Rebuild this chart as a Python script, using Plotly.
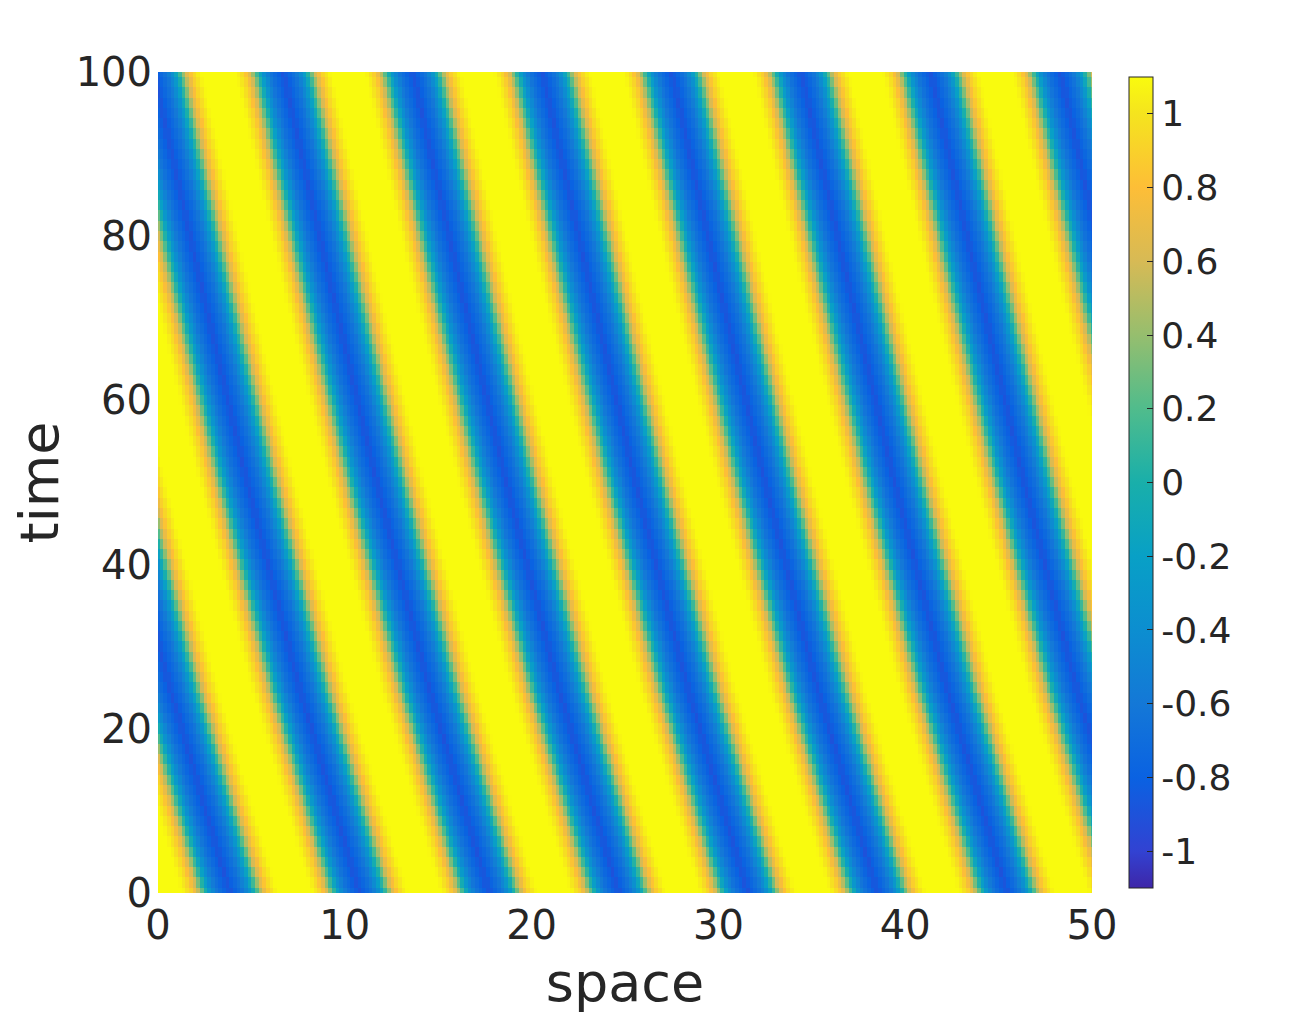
import numpy as np
import plotly.graph_objects as go

# =============================
# DATA
# =============================

# yellow ridge (crest) positions along five rows of the space-time map
row_t = [3.4, 25.3, 50.3, 75.3, 99.5]
row_first = [1, 1, 1, 2, 2]   # number of the first crest seen in each row
row_crests = [
    [6.75, 13.7, 20.66, 27.7, 34.5, 41.5, 48.8],
    [4.38, 11.17, 17.96, 24.75, 31.7, 38.5, 45.45],
    [1.23, 8.03, 15.15, 22.1, 29.07, 36.0, 43.0, 49.6],
    [5.67, 12.63, 19.4, 26.4, 33.3, 40.3, 47.3],
    [3.37, 10.2, 17.0, 24.0, 31.0, 37.95, 44.97],
]

# value across one wavelength, crest at phase 0
profile_phase = [0.0, 0.05, 0.1, 0.15, 0.2, 0.25, 0.3, 0.35, 0.4, 0.45, 0.5,
                 0.55, 0.6, 0.65, 0.7, 0.75, 0.8, 0.85, 0.9, 0.95, 1.0]
profile_value = [1.2, 1.18, 1.14, 1.06, 0.9, 0.6, 0.1, -0.36, -0.62, -0.76, -0.9,
                 -0.76, -0.62, -0.36, 0.1, 0.6, 0.9, 1.06, 1.14, 1.18, 1.2]

x_ticks = [0, 10, 20, 30, 40, 50]
t_ticks = [0, 20, 40, 60, 80, 100]
cb_ticks = [-1, -0.8, -0.6, -0.4, -0.2, 0, 0.2, 0.4, 0.6, 0.8, 1]
cb_text = ["-1", "-0.8", "-0.6", "-0.4", "-0.2", "0", "0.2", "0.4", "0.6", "0.8", "1"]

# parula, as seen on the colour bar
parula = [
    [0.000, "rgb(62,38,168)"],
    [0.045, "rgb(50,66,210)"],
    [0.136, "rgb(10,98,226)"],
    [0.227, "rgb(20,120,215)"],
    [0.318, "rgb(12,142,208)"],
    [0.409, "rgb(8,160,198)"],
    [0.500, "rgb(25,175,170)"],
    [0.591, "rgb(80,188,140)"],
    [0.682, "rgb(150,190,110)"],
    [0.773, "rgb(215,186,85)"],
    [0.864, "rgb(253,190,55)"],
    [0.955, "rgb(245,228,30)"],
    [1.000, "rgb(249,251,14)"],
]

# =============================
# FIELD
# =============================

# one common wavelength, one offset per row
slopes = []
for first, cr in zip(row_first, row_crests):
    n = np.arange(first, first + len(cr))
    slopes.append(np.polyfit(n, cr, 1)[0])
lam = float(np.mean(slopes))

offsets = []
for first, cr in zip(row_first, row_crests):
    n = np.arange(first, first + len(cr))
    offsets.append(float(np.mean(np.asarray(cr) - lam * n)))


def interp_ext(t, tp, fp):
    tp, fp = np.asarray(tp), np.asarray(fp)
    out = np.interp(t, tp, fp)
    lo = t < tp[0]
    hi = t > tp[-1]
    out[lo] = fp[0] + (t[lo] - tp[0]) * (fp[1] - fp[0]) / (tp[1] - tp[0])
    out[hi] = fp[-1] + (t[hi] - tp[-1]) * (fp[-1] - fp[-2]) / (tp[-1] - tp[-2])
    return out


x = np.linspace(0, 50, 256)
t = np.linspace(0, 100, 81)
a_t = interp_ext(t, row_t, offsets)

phase = np.mod((x[None, :] - a_t[:, None]) / lam, 1.0)
z = np.interp(phase, profile_phase, profile_value)

# =============================
# FIGURE
# =============================

TXT = "#262626"

fig = go.Figure(go.Heatmap(
    x=x, y=t, z=z,
    zmin=-1.1, zmax=1.1,
    colorscale=parula,
    colorbar=dict(
        x=(1129 - 158) / 934, xanchor="left", xref="paper",
        y=0.5, yanchor="middle",
        len=811, lenmode="pixels",
        thickness=24, thicknessmode="pixels",
        xpad=0, ypad=0,
        outlinewidth=1, outlinecolor=TXT,
        tickvals=cb_ticks, ticktext=cb_text,
        ticks="inside", ticklen=6, tickcolor=TXT,
        tickfont=dict(size=36, color=TXT),
    ),
    hoverinfo="skip",
))

fig.update_layout(
    width=1288, height=1012,
    margin=dict(l=150, r=204, t=64, b=127),
    paper_bgcolor="white", plot_bgcolor="white",
    font=dict(family="DejaVu Sans", color=TXT),
    xaxis=dict(
        range=[0, 50], tickvals=x_ticks, showgrid=False, zeroline=False,
        showline=False, ticks="", ticklabelstandoff=5,
        tickfont=dict(size=40, color=TXT),
        title=dict(text="space", font=dict(size=54, color=TXT), standoff=16),
        automargin=False,
    ),
    yaxis=dict(
        range=[0, 100], tickvals=t_ticks, showgrid=False, zeroline=False,
        showline=False, ticks="", ticklabelstandoff=5,
        tickfont=dict(size=40, color=TXT),
        title=dict(text="time", font=dict(size=54, color=TXT), standoff=16),
        automargin=False,
    ),
)

fig.write_html("out.html")
